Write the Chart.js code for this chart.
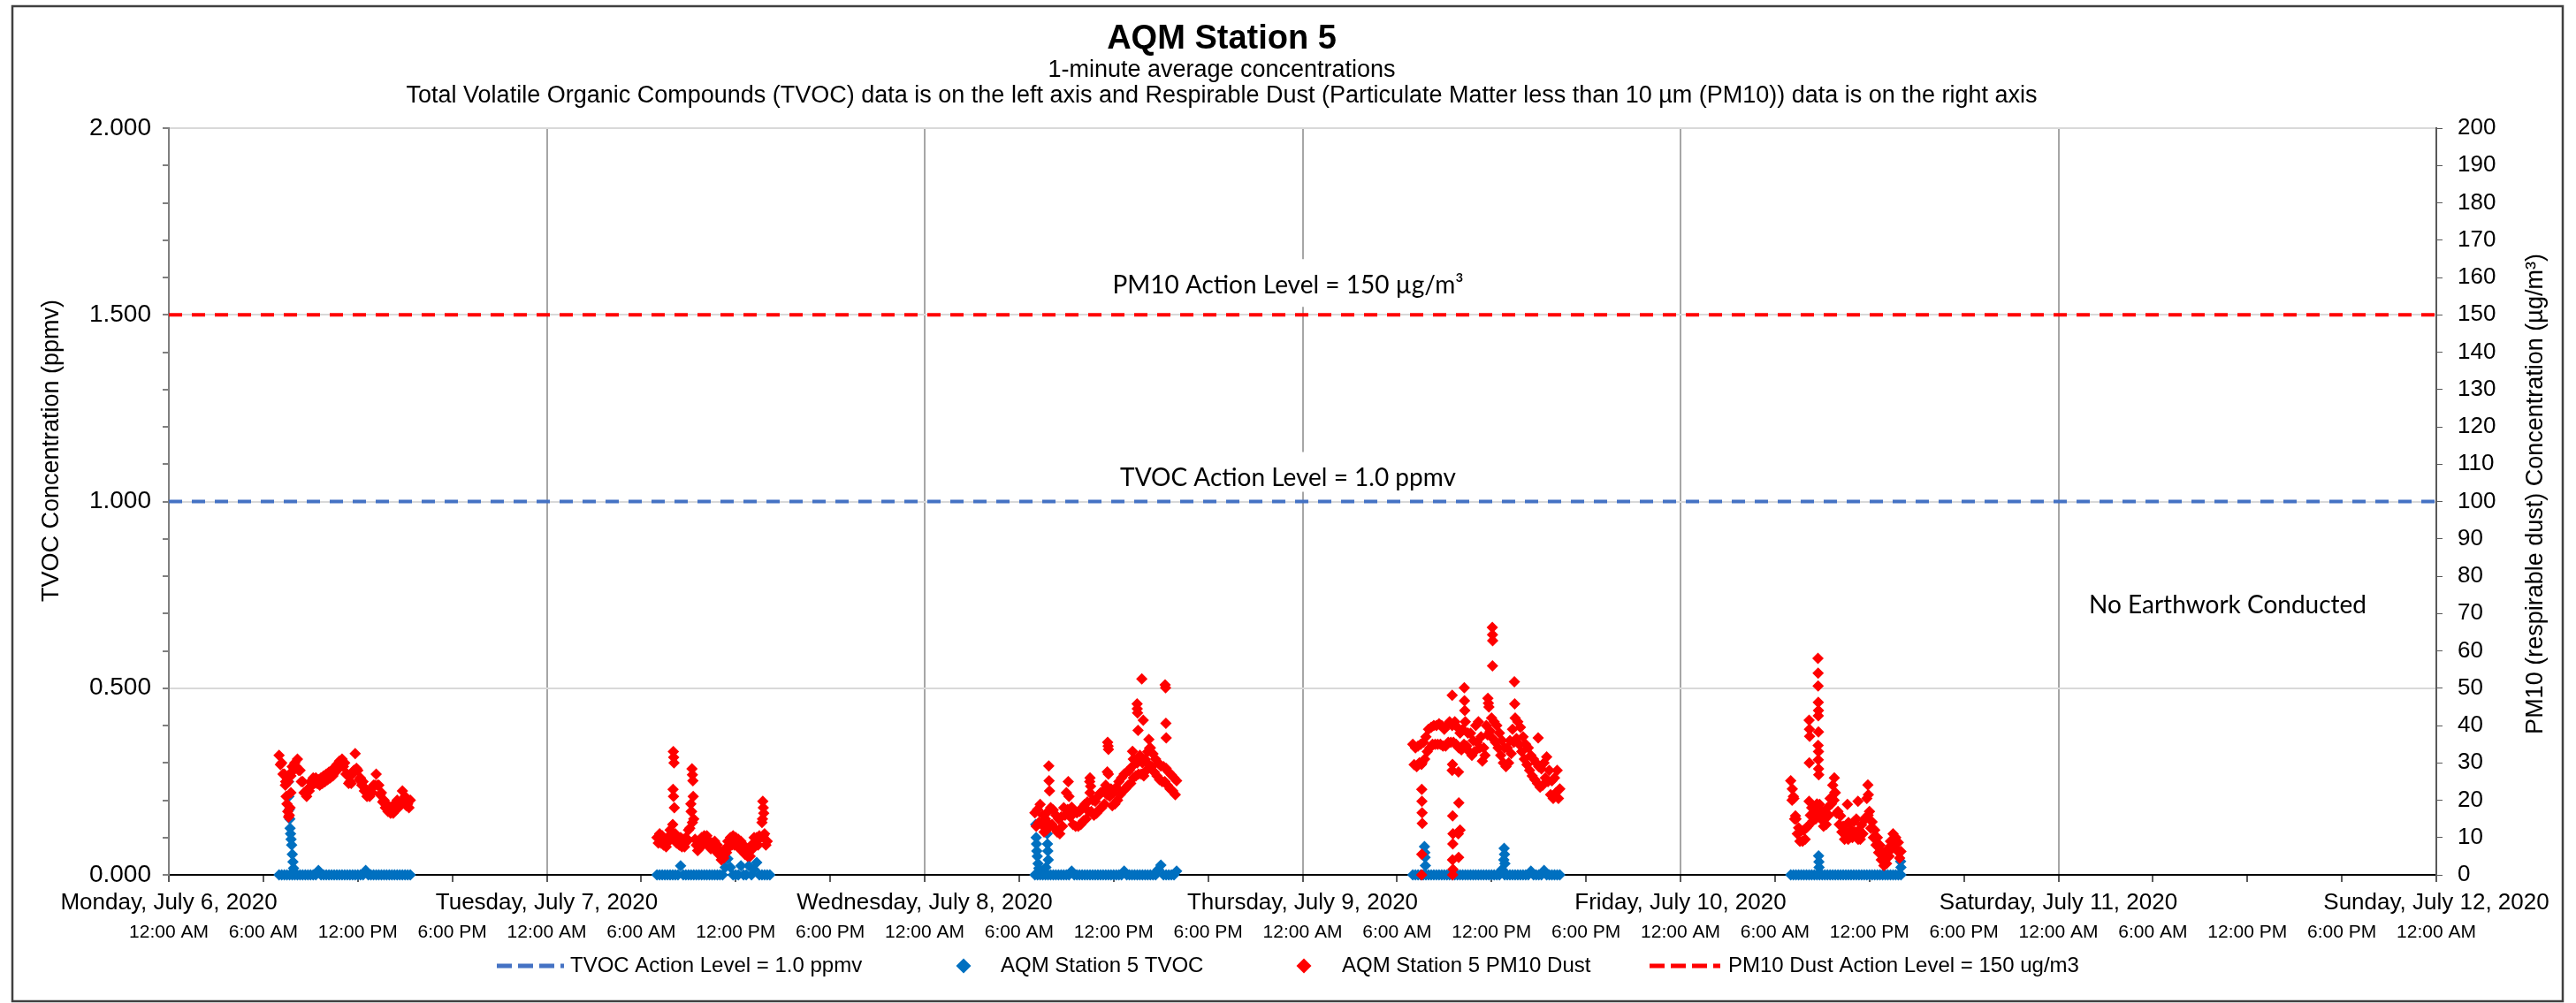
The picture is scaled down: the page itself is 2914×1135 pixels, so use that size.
<!DOCTYPE html>
<html>
<head>
<meta charset="utf-8">
<script src="https://cdn.jsdelivr.net/npm/chart.js@4.4.1/dist/chart.umd.min.js"></script>
<style>
html,body{margin:0;padding:0;background:#fff;}
canvas{display:block;}
</style>
</head>
<body>
<canvas id="c" width="2914" height="1135" style="width:2914px;height:1135px"></canvas>
<script>
// ---------------- DATA ----------------
const chartTitle = 'AQM Station 5';
const subtitle1 = '1-minute average concentrations';
const subtitle2 = 'Total Volatile Organic Compounds (TVOC) data is on the left axis and Respirable Dust (Particulate Matter less than 10 µm (PM10)) data is on the right axis';
const leftAxisTitle = 'TVOC Concentration (ppmv)';
const rightAxisTitle = 'PM10 (respirable dust) Concentration (µg/m³)';
const pm10LabelText = 'PM10 Action Level = 150 µg/m³';
const tvocLabelText = 'TVOC Action Level = 1.0 ppmv';
const noWorkText = 'No Earthwork Conducted';

const dayLabels = ['Monday, July 6, 2020', 'Tuesday, July 7, 2020', 'Wednesday, July 8, 2020', 'Thursday, July 9, 2020', 'Friday, July 10, 2020', 'Saturday, July 11, 2020', 'Sunday, July 12, 2020'];
const timeLabels = ['12:00 AM', '6:00 AM', '12:00 PM', '6:00 PM'];

const tvocActionLevel = 1.0;   // ppmv
const pm10ActionLevel = 150;   // µg/m3

const sampleStartHour = 7;     // readings start 7:00 AM each work day
const pm10StepMin = 5;
const tvocStepMin = 10;

// PM10 (µg/m3), 5-minute readings from 7:00 AM
const pm10Mon = [32,29.5,30,27,27,25,26,25,27,26.5, 29,28,30,29,31,28,28,25,25,22, 22,21,23,22.5,25,24,26,24.5,26,24.5, 25.5,24,26,24.5,26.5,25,27,25.5,27.5,26, 28,26.5,28.5,27.5,29.5,28.5,30.5,29,31,29, 30,27,27,24.5,25,24.5,27,28,32.5,28.5, 28,25.5,26,24,25,22.5,23,21,22,21, 23,22,24,24,27,24,24,21.5,22,19.5, 20,18,19,17,18,16.5,17.5,16.5,19,18, 20,18,19,19.5,22.5,20,21,18.5,19,18, 20];
const pm10Tue = [10,8.5,11,8.5,10.5,8,9.5,7.5,10,9, 12,10.5,13.5,10,11,8.5,10,8,10,7.5, 9.5,7.5,10,9,12,12.5,17,14,15,9.5, 8,6.5,9,7.5,10,8,10.5,8.5,10.5,8, 9,7,8.5,7,9,6.5,8,5.5,6.5,4, 5.5,4.5,7,6,9,7.5,10,8,10.5,8, 10,8,9.5,7,9,6.5,8,5.5,7,5, 6.5,5,8,7,10,8,10,8,10.5,10, 14,10.5,11,8,9];
const pm10Wed = [16.6,13,17.5,14,18.9,13.5,16,11.5,15,12, 17,13.5,18,13.5,17.4,12.5,16,11.5,15,11, 15.5,13,18,16,22,17.5,21,15.5,18.1,13.5, 17,13,16.6,13,17,13.5,18,14.5,18.9,15, 19.5,17,22,17,20,16,19.7,16.5,21,17.5, 22,18,22.5,19,24,21.5,27,21,23,18.5, 22,19,23.5,20,25,21.5,26,22.5,27,23, 27.6,24,28,24.5,29,26,30.7,26.5,30,27, 32,27,30,26.5,31,28,33,29.5,34,29, 32.4,27.5,31,26.5,30,25.5,29.2,25,29,25, 28.5,24,27.5,23,26.8,22.5,26,21.5,25.2];
const pm10Thu = [35,29.5,34,29,34.5,30,35,30,35.5,31, 37,33,39,34,39.5,35,40,35,40,35, 40.5,35,40,34.5,39,34.5,40,35.5,41,35.5, 40,35.5,41,35,39.5,34,38,33.5,39,35, 41,34.5,38,33,37.9,32,36,33,40,35.5, 41,34,37,30.5,34,32,40,37.5,45,38.5, 42,36.5,41,35.5,40,34,38,32,36,30, 34,29,34,30,36,32.5,39,35.5,42,36.5, 41,35,39.5,33,37,31,35,29.5,34,28, 32,26.5,31,25.5,30,24.5,29,23.5,28.4,24, 30,26,31.6,25,28,21.5,25.2,20.5,26,22, 28,20.5,23];
const pm10Fri = [25.2,20,21,15,15,11,12.6,9,11.8,9, 12,9.5,12.6,13,19.7,16,18,14.5,17.4,15, 19,16,18.9,15,17,13,15,13.5,18,16, 20.5,19,24,20,22,16.5,17,13.5,15.8,11.5, 13,9.5,11.8,10,14,10,12,10,14.2,11.5, 15,10.5,12,9.5,13.4,11,15,15,20.5,16, 17,12.5,14.2,10,12,8,10,6,7.9,4, 6,2.5,4.7,3,7,5,9,7,11,7.5, 10,6.5,8.7,4.5,6.3];

// PM10 short spikes / dips: [hour of day, µg/m3]
const pm10MonSpikes = [[7.4,24],[7.45,21],[7.5,19],[7.55,17],[7.6,15.5],[7.65,16],[7.7,18],[7.75,22]];
const pm10TueSpikes = [[8.02,22.9],[8.04,33],[8.06,31.5],[8.08,30],[8.05,21],[8.1,18],[9.15,19],[9.2,17],[9.22,28.4],[9.25,26.8],[9.28,25.2],[9.3,21],[13.7,15],[13.72,19.7],[13.75,18],[13.78,16.5]];
const pm10WedSpikes = [[7.88,29.2],[7.9,25.2],[7.93,22.5],[9.12,25],[10.48,25],[10.5,26],[10.54,23.7],[11.6,27.6],[11.62,35.5],[11.65,34.5],[11.67,33.6],[13.2,33.1],[13.25,31],[13.49,45.8],[13.5,44.5],[13.52,43.4],[13.55,38.7],[13.79,52.5],[13.88,41.4],[14.24,36.3],[14.28,33.9],[15.27,50.9],[15.3,50.1],[15.32,40.6],[15.34,36.7]];
const pm10ThuSpikes = [[7.55,29.6],[7.56,0],[7.57,22.9],[7.57,5.5],[7.58,19.7],[7.59,16.6],[7.6,13.8],[9.5,48.1],[9.5,28],[9.52,29.6],[9.52,4],[9.53,15.8],[9.53,0],[9.54,8.3],[9.55,11],[9.55,1.5],[9.89,11],[9.9,27.6],[9.91,4.7],[9.92,19.3],[10.0,12],[10.27,50.1],[10.28,46.6],[10.3,44],[11.77,47.3],[11.8,46],[12.05,66.3],[12.06,64.3],[12.06,56],[12.07,62.7],[13.45,51.7],[13.47,45.8],[14.96,36.7]];
const pm10FriSpikes = [[7.1,23],[7.2,20.5],[7.3,15.8],[8.17,41.4],[8.18,30],[8.19,39],[8.2,37.1],[8.73,58],[8.74,54],[8.74,50.6],[8.74,34.7],[8.75,46.2],[8.75,42.6],[8.75,30.8],[8.76,44],[8.76,38.3],[8.76,33],[8.77,28.4],[8.78,26.8],[9.77,26],[9.8,22.1],[10.6,18.9],[10.65,9.5],[11.27,19.7],[11.28,9.5],[11.9,24.1],[11.93,21.5]];

// TVOC (ppmv), 10-minute readings from 7:00 AM
const tvocMon = [0,0,0,0,0,0,0,0,0,0, 0,0,0,0,0,0.012,0,0,0,0, 0,0,0,0,0,0,0,0,0,0, 0,0,0,0.012,0,0,0,0,0,0, 0,0,0,0,0,0,0,0,0,0, 0];
const tvocTue = [0,0,0,0,0,0,0,0,0,0.024, 0,0,0,0,0,0,0,0,0,0, 0,0,0,0,0,0,0.02,0.043,0.02,0, 0,0,0.024,0,0,0.024,0,0.015,0.033,0, 0,0,0,0];
const tvocWed = [0,0,0,0,0,0,0,0,0,0, 0,0,0,0,0.01,0,0,0,0,0, 0,0,0,0,0,0,0,0,0,0, 0,0,0,0,0.01,0,0,0,0,0, 0,0,0,0,0,0,0,0.015,0.026,0, 0,0,0,0,0.01];
const tvocThu = [0,0,0,0,0,0,0,0,0,0, 0,0,0,0,0,0,0,0,0,0, 0,0,0,0,0,0,0,0,0,0, 0,0,0,0,0.015,0,0,0,0,0, 0,0,0,0,0,0.01,0,0,0,0, 0.012,0,0,0,0,0,0];
const tvocFri = [0,0,0,0,0,0,0,0,0,0, 0,0,0,0,0,0,0,0,0,0, 0,0,0,0,0,0,0,0,0,0, 0,0,0,0,0,0,0,0,0,0, 0,0,0];

// TVOC short spikes: [hour of day, ppmv]
const tvocMonSpikes = [[7.6,0.25],[7.62,0.21],[7.65,0.175],[7.68,0.15],[7.7,0.125],[7.73,0.11],[7.76,0.095],[7.8,0.08],[7.84,0.055],[7.88,0.035],[7.92,0.018]];
const tvocTueSpikes = [];
const tvocWedSpikes = [[7.05,0.135],[7.08,0.1],[7.1,0.083],[7.12,0.064],[7.15,0.05],[7.2,0.03],[7.25,0.018],[7.7,0.02],[7.75,0.13],[7.78,0.11],[7.8,0.083],[7.82,0.064],[7.85,0.04]];
const tvocThuSpikes = [[7.74,0.076],[7.76,0.06],[7.78,0.047],[7.8,0.025],[12.78,0.04],[12.8,0.071],[12.82,0.055],[12.85,0.03]];
const tvocFriSpikes = [[8.77,0.051],[8.79,0.035],[8.8,0.02],[13.98,0.036],[14.0,0.02]];

// ---------------- BUILD ----------------
function gridPoints(day, values, stepMin) {
  return values.map((v, i) => ({x: day * 24 + sampleStartHour + i * stepMin / 60, y: v}));
}
function spikePoints(day, pairs) {
  return pairs.map(p => ({x: day * 24 + p[0], y: p[1]}));
}
const pm10Days = [pm10Mon, pm10Tue, pm10Wed, pm10Thu, pm10Fri];
const pm10SpikeDays = [pm10MonSpikes, pm10TueSpikes, pm10WedSpikes, pm10ThuSpikes, pm10FriSpikes];
const tvocDays = [tvocMon, tvocTue, tvocWed, tvocThu, tvocFri];
const tvocSpikeDays = [tvocMonSpikes, tvocTueSpikes, tvocWedSpikes, tvocThuSpikes, tvocFriSpikes];

let pm10Points = [], tvocPoints = [];
for (let d = 0; d < 5; d++) {
  pm10Points = pm10Points.concat(gridPoints(d, pm10Days[d], pm10StepMin), spikePoints(d, pm10SpikeDays[d]));
  tvocPoints = tvocPoints.concat(gridPoints(d, tvocDays[d], tvocStepMin), spikePoints(d, tvocSpikeDays[d]));
}

const FONT = '"Liberation Sans", Arial, sans-serif';
const CAL = 'Lato, "Liberation Sans", sans-serif';

const decor = {
  id: 'decor',
  beforeDraw(chart) {
    const ctx = chart.ctx;
    ctx.save();
    ctx.fillStyle = '#fff';
    ctx.fillRect(0, 0, chart.width, chart.height);
    ctx.restore();
  },
  afterDraw(chart) {
    const ctx = chart.ctx;
    const sy = chart.scales.y, sy2 = chart.scales.y2;
    ctx.save();
    ctx.fillStyle = '#000';
    ctx.textAlign = 'center';
    ctx.textBaseline = 'alphabetic';
    const tx = 1382;
    ctx.font = 'bold 38px ' + FONT;
    ctx.fillText(chartTitle, tx, 55);
    ctx.font = '27px ' + FONT;
    ctx.fillText(subtitle1, tx, 87);
    ctx.fillText(subtitle2, tx, 116);

    // axis titles
    ctx.font = '27px ' + FONT;
    ctx.textBaseline = 'middle';
    ctx.save();
    ctx.translate(59, 510);
    ctx.rotate(-Math.PI / 2);
    ctx.fillText(leftAxisTitle, 0, 0);
    ctx.restore();
    ctx.save();
    ctx.translate(2869, 559);
    ctx.rotate(-Math.PI / 2);
    ctx.fillText(rightAxisTitle, 0, 0);
    ctx.restore();

    // action level labels with white text boxes
    ctx.font = '28px ' + CAL;
    ctx.textBaseline = 'alphabetic';
    const cx = chart.width / 2;
    const pmY = sy2.getPixelForValue(pm10ActionLevel);
    let w = ctx.measureText(pm10LabelText).width;
    ctx.fillStyle = '#fff';
    ctx.fillRect(cx - w / 2 - 10, pmY - 63, w + 20, 54);
    ctx.fillStyle = '#000';
    ctx.fillText(pm10LabelText, cx, pmY - 24);
    const tvY = sy.getPixelForValue(tvocActionLevel);
    w = ctx.measureText(tvocLabelText).width;
    ctx.fillStyle = '#fff';
    ctx.fillRect(cx - w / 2 - 10, tvY - 56, w + 20, 45);
    ctx.fillStyle = '#000';
    ctx.fillText(tvocLabelText, cx, tvY - 17.5);
    ctx.fillText(noWorkText, 2520, 694);

    // legend
    const ds = chart.data.datasets;
    const ly = 1093;
    ctx.font = '24px ' + FONT;
    ctx.textAlign = 'left';
    ctx.textBaseline = 'middle';
    function dashSample(x0, x1, color) {
      ctx.save();
      ctx.strokeStyle = color;
      ctx.lineWidth = 5;
      ctx.setLineDash([17, 7]);
      ctx.beginPath();
      ctx.moveTo(x0, ly);
      ctx.lineTo(x1, ly);
      ctx.stroke();
      ctx.restore();
    }
    function diamond(cxp, color) {
      ctx.fillStyle = color;
      ctx.beginPath();
      ctx.moveTo(cxp - 8.5, ly);
      ctx.lineTo(cxp, ly - 8.5);
      ctx.lineTo(cxp + 8.5, ly);
      ctx.lineTo(cxp, ly + 8.5);
      ctx.closePath();
      ctx.fill();
    }
    dashSample(562, 638, ds[0].borderColor);
    ctx.fillStyle = '#000';
    ctx.fillText(ds[0].label, 645, ly);
    diamond(1090, ds[1].backgroundColor);
    ctx.fillStyle = '#000';
    ctx.fillText(ds[1].label, 1132, ly);
    diamond(1475, ds[2].backgroundColor);
    ctx.fillStyle = '#000';
    ctx.fillText(ds[2].label, 1518, ly);
    dashSample(1866, 1946, ds[3].borderColor);
    ctx.fillStyle = '#000';
    ctx.fillText(ds[3].label, 1955, ly);

    // chart border
    ctx.strokeStyle = '#404040';
    ctx.lineWidth = 2.5;
    ctx.strokeRect(14, 7, 2885, 1126);
    ctx.restore();
  }
};

new Chart(document.getElementById('c'), {
  type: 'scatter',
  data: {
    datasets: [
      {label: 'TVOC Action Level = 1.0 ppmv', data: [{x: 0, y: tvocActionLevel}, {x: 144, y: tvocActionLevel}], yAxisID: 'y', showLine: true, borderColor: '#4472C4', borderWidth: 4, borderDash: [15, 11], pointRadius: 0, order: 1},
      {label: 'AQM Station 5 TVOC', data: tvocPoints, yAxisID: 'y', pointStyle: 'rectRot', pointRadius: 6.5, backgroundColor: '#0070C0', borderWidth: 0, order: 4, clip: false},
      {label: 'AQM Station 5 PM10 Dust', data: pm10Points, yAxisID: 'y2', pointStyle: 'rectRot', pointRadius: 6.5, backgroundColor: '#FF0000', borderWidth: 0, order: 3, clip: false},
      {label: 'PM10 Dust Action Level = 150 ug/m3', data: [{x: 0, y: pm10ActionLevel}, {x: 144, y: pm10ActionLevel}], yAxisID: 'y2', showLine: true, borderColor: '#FF0000', borderWidth: 4, borderDash: [15, 11], pointRadius: 0, order: 2}
    ]
  },
  options: {
    responsive: false,
    animation: false,
    devicePixelRatio: 1,
    events: [],
    layout: {padding: {top: 145, bottom: 65, left: 0, right: 0}},
    plugins: {legend: {display: false}, title: {display: false}, tooltip: {enabled: false}},
    scales: {
      x: {
        type: 'linear', position: 'bottom', min: 0, max: 144,
        afterFit(s) { s.height = 50; },
        ticks: {stepSize: 6, autoSkip: false, maxRotation: 0, minRotation: 0, maxTicksLimit: 100, padding: 8, color: '#000',
          font: {family: FONT, size: 26},
          callback: (v) => (v % 24 === 0 ? dayLabels[v / 24] : '')},
        grid: {color: (c) => (c.tick && c.tick.value % 24 === 0 ? '#A6A6A6' : 'rgba(0,0,0,0)'), lineWidth: 2, tickLength: 8, tickColor: '#595959', tickWidth: 2},
        border: {color: '#000', width: 2}
      },
      x2: {
        type: 'linear', position: 'bottom', min: 0, max: 144,
        afterFit(s) { s.height = 30; },
        ticks: {stepSize: 6, autoSkip: false, maxRotation: 0, minRotation: 0, maxTicksLimit: 100, padding: 3, color: '#000',
          font: {family: FONT, size: 21},
          callback: (v) => timeLabels[(v % 24) / 6]},
        grid: {display: false, drawTicks: false},
        border: {display: false}
      },
      y: {
        type: 'linear', position: 'left', min: 0, max: 2,
        afterFit(s) { s.width = 191; },
        ticks: {stepSize: 0.1, autoSkip: false, maxTicksLimit: 100, padding: 13, color: '#000',
          font: {family: FONT, size: 28},
          callback: (v) => (Math.round(v * 10) % 5 === 0 ? Number(v).toFixed(3) : '')},
        grid: {color: (c) => (c.tick && Math.round(c.tick.value * 10) % 5 === 0 ? '#D9D9D9' : 'rgba(0,0,0,0)'), lineWidth: 2, tickLength: 7, tickColor: '#7F7F7F'},
        border: {color: '#7F7F7F', width: 2}
      },
      y2: {
        type: 'linear', position: 'right', min: 0, max: 200,
        afterFit(s) { s.width = 158; },
        ticks: {stepSize: 10, autoSkip: false, maxTicksLimit: 100, padding: 17, color: '#000',
          font: {family: FONT, size: 26}},
        grid: {drawOnChartArea: false, tickLength: 7, tickColor: '#595959'},
        border: {color: '#595959', width: 2}
      }
    }
  },
  plugins: [decor]
});
</script>
</body>
</html>
